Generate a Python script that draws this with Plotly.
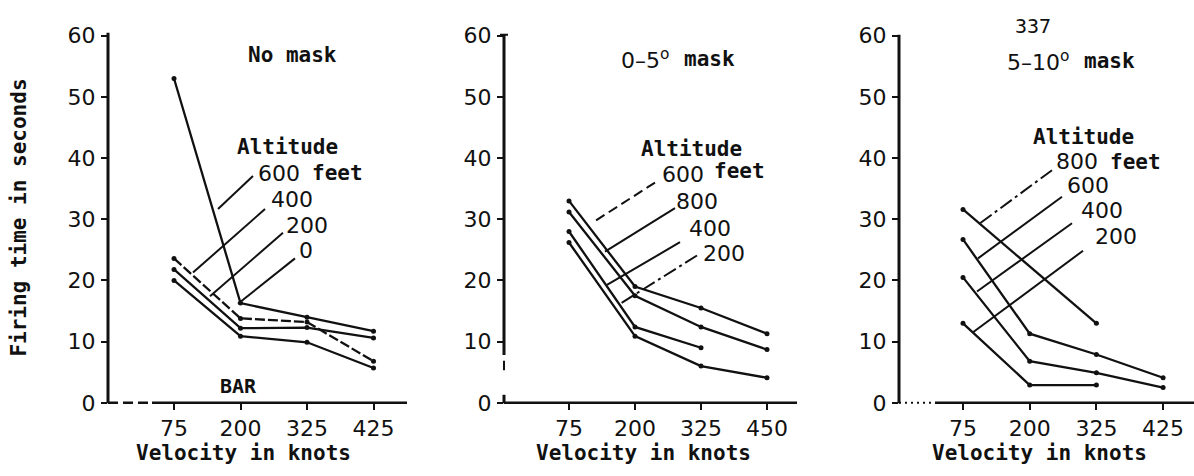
import plotly.graph_objects as go

W, H = 1194, 476

# Velocity categories (knots) for each panel
velocity_a = ["75", "200", "325", "425"]
velocity_b = ["75", "200", "325", "450"]

# Firing time in seconds, by altitude -- no mask
nomask_600 = [53.0, 16.3, 14.0, 11.7]
nomask_400 = [23.6, 13.8, 13.2, 6.8]
nomask_200 = [21.8, 12.2, 12.3, 10.6]
nomask_0 = [20.0, 10.9, 9.9, 5.7]

# 0-5 degree mask
mask05_600 = [33.0, 19.0, 15.5, 11.3]
mask05_800 = [31.2, 17.5, 12.4, 8.7]
mask05_400 = [28.0, 12.4, 9.0, None]
mask05_200 = [26.2, 10.9, 6.0, 4.1]

# 5-10 degree mask
mask510_800 = [31.6, None, 13.0, None]
mask510_600 = [26.7, 11.3, 7.9, 4.1]
mask510_400 = [20.5, 6.8, 4.9, 2.5]
mask510_200 = [13.0, 2.9, 2.9, None]

y_ticks = [0, 10, 20, 30, 40, 50, 60]

INK = "#111111"
MONO = "DejaVu Sans Mono"
LETTER = "DejaVu Sans"


def px(x, y):
    """Pixel position -> paper coordinates."""
    return x / W, 1 - y / H


fig = go.Figure()

panels = [
    ("x", "y", velocity_a, [(nomask_600, "solid"), (nomask_400, "10px,3px"),
                            (nomask_200, "solid"), (nomask_0, "solid")]),
    ("x2", "y2", velocity_b, [(mask05_600, "solid"), (mask05_800, "solid"),
                              (mask05_400, "solid"), (mask05_200, "solid")]),
    ("x3", "y3", velocity_a, [(mask510_800, "solid"), (mask510_600, "solid"),
                              (mask510_400, "solid"), (mask510_200, "solid")]),
]

for xa, ya, cats, series in panels:
    for vals, dash in series:
        fig.add_trace(go.Scatter(
            x=cats, y=vals, xaxis=xa, yaxis=ya, mode="lines+markers",
            connectgaps=True, showlegend=False, hoverinfo="skip",
            line=dict(color=INK, width=2.3, dash=dash),
            marker=dict(color=INK, size=5),
        ))

# Subplot geometry (pixels): plot left/right edges and category spacing
y_top, y_zero = 25.0, 412.5
geom = [
    (108, 407, 174, 66.5),
    (504, 797, 569, 66.0),
    (899, 1194, 963, 66.7),
]

ydom = [1 - y_zero / H, 1 - y_top / H]
axis_font = dict(family=LETTER, size=22, color=INK)
for i, (left, right, first, step) in enumerate(geom):
    suffix = "" if i == 0 else str(i + 1)
    cats = velocity_b if i == 1 else velocity_a
    fig.update_layout(**{
        "xaxis" + suffix: dict(
            domain=[left / W, right / W], type="category",
            categoryorder="array", categoryarray=cats,
            range=[(left - first) / step, (right - first) / step],
            anchor="y" + suffix, showgrid=False, zeroline=False, showline=False,
            ticks="outside", ticklen=6, tickwidth=2, tickcolor=INK,
            tickfont=axis_font, ticklabelstandoff=0,
        ),
        "yaxis" + suffix: dict(
            domain=ydom, range=[0, 60], anchor="x" + suffix,
            tickvals=y_ticks, showgrid=False, zeroline=False, showline=False,
            ticks="outside", ticklen=6, tickwidth=2, tickcolor=INK,
            tickfont=axis_font, ticklabelstandoff=1,
        ),
    })

shapes = []


def seg(x0, y0, x1, y1, width=2.0, dash="solid"):
    a = px(x0, y0)
    b = px(x1, y1)
    shapes.append(dict(type="line", xref="paper", yref="paper",
                       x0=a[0], y0=a[1], x1=b[0], y1=b[1],
                       line=dict(color=INK, width=width, dash=dash)))


# Axis lines
seg(108, 22, 108, 413, 3)
seg(108, y_zero, 152, y_zero, 2.5, "10px,5px")
seg(152, y_zero, 407, y_zero, 2.5)

seg(504, 24, 504, 362, 3)
seg(500, 24, 508, 24, 2)
seg(504, 368, 504, 378, 2)
seg(504, 404, 504, 413, 3)
seg(504, y_zero, 797, y_zero, 2.5)

seg(899, 24, 899, 413, 3)
seg(899, y_zero, 935, y_zero, 2, "2px,4px")
seg(935, y_zero, 1194, y_zero, 2.5)

# Leader lines from altitude labels to curves
seg(253, 173, 218, 208)
seg(265, 208, 193, 275)
seg(283, 233, 210, 300)
seg(295, 260, 238, 308)

seg(655, 180, 593, 222, 2, "10px,5px")
seg(675, 207, 605, 253)
seg(680, 243, 607, 288)
seg(697, 257, 620, 308, 2, "14px,4px,3px,4px")

seg(1052, 167, 980, 223, 2, "14px,4px,3px,4px")
seg(1062, 195, 978, 260)
seg(1072, 223, 977, 295)
seg(1083, 252, 973, 338)

fig.update_layout(shapes=shapes)

annotations = []


def label(x, y, text, family=MONO, size=21, bold=True, angle=0):
    p = px(x, y)
    annotations.append(dict(
        xref="paper", yref="paper", x=p[0], y=p[1],
        text=("<b>%s</b>" % text) if bold else text,
        showarrow=False, xanchor="center", yanchor="middle", textangle=angle,
        font=dict(family=family, size=size, color=INK),
    ))


def num(x, y, text):
    label(x, y, text, family=LETTER, size=22, bold=False)


# Panel titles
label(292, 45, "No mask")
num(645, 50, "0–5<sup>o</sup>")
label(710, 50, "mask")
label(1033, 15, "337", size=20, bold=False)
num(1038, 52, "5–10<sup>o</sup>")
label(1109, 52, "mask")

# Altitude keys
label(287, 143, "Altitude")
num(279, 170, "600")
label(337, 170, "feet")
num(292, 198, "400")
num(307, 225, "200")
num(306, 252, "0")
label(238, 395, "BAR", size=20)

label(691, 145, "Altitude")
num(683, 172, "600")
label(740, 168, "feet")
num(697, 200, "800")
num(710, 228, "400")
num(724, 255, "200")

label(1083, 132, "Altitude")
num(1077, 158, "800")
label(1135, 158, "feet")
num(1088, 183, "600")
num(1102, 210, "400")
num(1116, 237, "200")

# Axis titles
label(19, 217, "Firing time in seconds", angle=-90)
label(244, 465, "Velocity in knots")
label(643, 465, "Velocity in knots")
label(1039, 465, "Velocity in knots")

fig.update_layout(
    annotations=annotations,
    width=W, height=H,
    margin=dict(l=0, r=0, t=0, b=0),
    paper_bgcolor="white", plot_bgcolor="white",
    font=dict(family=LETTER, color=INK),
)

fig.write_html("out.html")
